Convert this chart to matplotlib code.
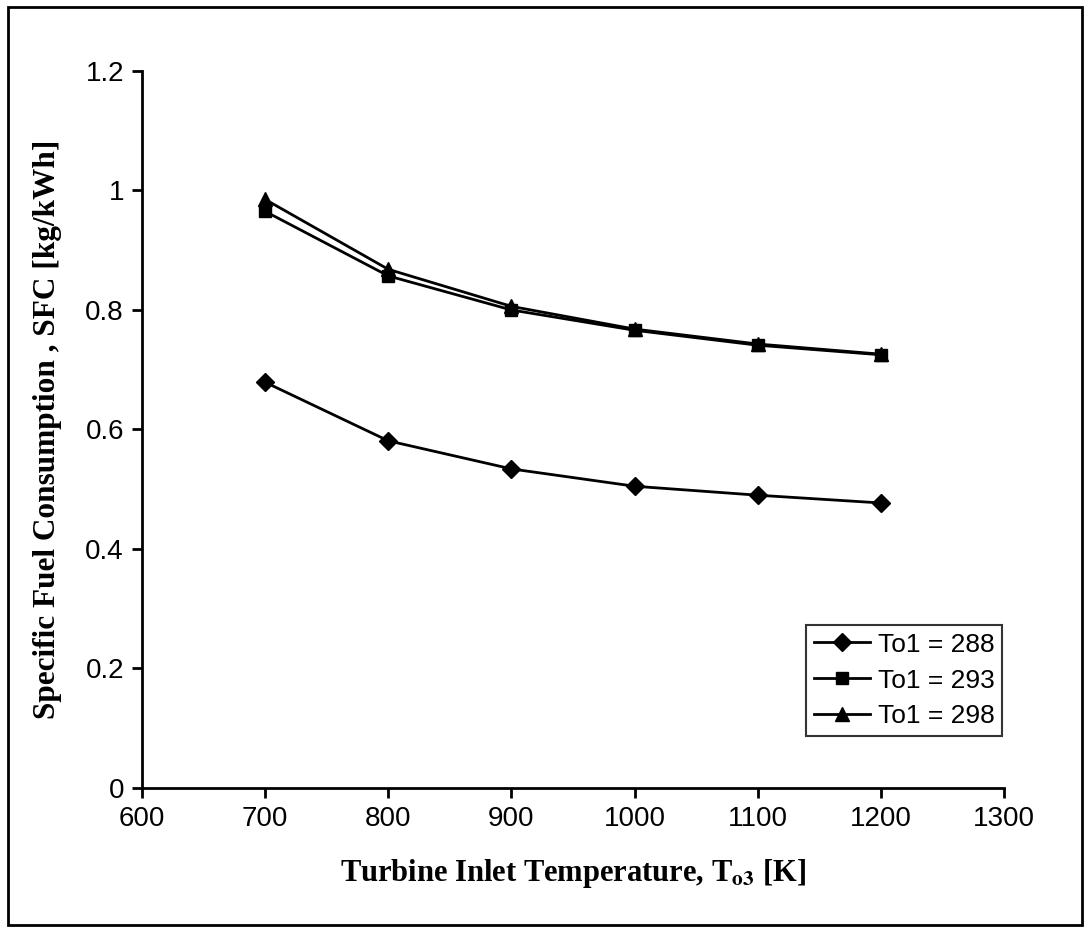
import matplotlib
matplotlib.use("Agg")
import matplotlib.pyplot as plt
from matplotlib.patches import Rectangle

tit = [700, 800, 900, 1000, 1100, 1200]
sfc_288 = [0.679, 0.581, 0.534, 0.505, 0.490, 0.477]
sfc_293 = [0.965, 0.857, 0.800, 0.766, 0.741, 0.725]
sfc_298 = [0.985, 0.868, 0.806, 0.768, 0.743, 0.726]
labels = ["To1 = 288", "To1 = 293", "To1 = 298"]

plt.rcParams["mathtext.fontset"] = "stix"

fig = plt.figure(figsize=(10.89, 9.3), dpi=100)
ax = fig.add_axes([0.1304, 0.1527, 0.922 - 0.1304, 0.9237 - 0.1527])

ax.plot(tit, sfc_288, color="black", lw=2, marker="D", ms=9, label=labels[0])
ax.plot(tit, sfc_293, color="black", lw=2, marker="s", ms=9, label=labels[1])
ax.plot(tit, sfc_298, color="black", lw=2, marker="^", ms=10, label=labels[2])

ax.set_xlim(600, 1300)
ax.set_ylim(0, 1.2)
ax.set_xticks([600, 700, 800, 900, 1000, 1100, 1200, 1300])
ax.set_yticks([0, 0.2, 0.4, 0.6, 0.8, 1.0, 1.2])
ax.set_yticklabels(["0", "0.2", "0.4", "0.6", "0.8", "1", "1.2"])
for s in ["top", "right"]:
    ax.spines[s].set_visible(False)
for s in ["left", "bottom"]:
    ax.spines[s].set_linewidth(2)
ax.tick_params(direction="out", length=7, width=2, labelsize=20, pad=6)
for t in ax.get_xticklabels() + ax.get_yticklabels():
    t.set_fontfamily("Liberation Sans")

ax.set_xlabel("Turbine Inlet Temperature, T$_{\\mathbf{o3}}$ [K]", fontsize=22,
              fontfamily="Liberation Serif", fontweight="bold", labelpad=18)
ax.set_ylabel("Specific Fuel Consumption , SFC [kg/kWh]", fontsize=22.5,
              fontfamily="Liberation Serif", fontweight="bold", labelpad=17)

leg = ax.legend(loc="lower right", bbox_to_anchor=(0.998, 0.072), frameon=True,
                fancybox=False, edgecolor="black",
                prop={"family": "Liberation Sans", "size": 19},
                handlelength=2.1, handletextpad=0.3, borderpad=0.3,
                labelspacing=0.45, borderaxespad=0.0)
leg.get_frame().set_linewidth(1.5)

fig.patches.append(Rectangle((8 / 1089, 5 / 930), 1 - 15 / 1089, 1 - 12 / 930,
                             transform=fig.transFigure, fill=False,
                             edgecolor="black", lw=2))

fig.savefig("out.png", dpi=100)
